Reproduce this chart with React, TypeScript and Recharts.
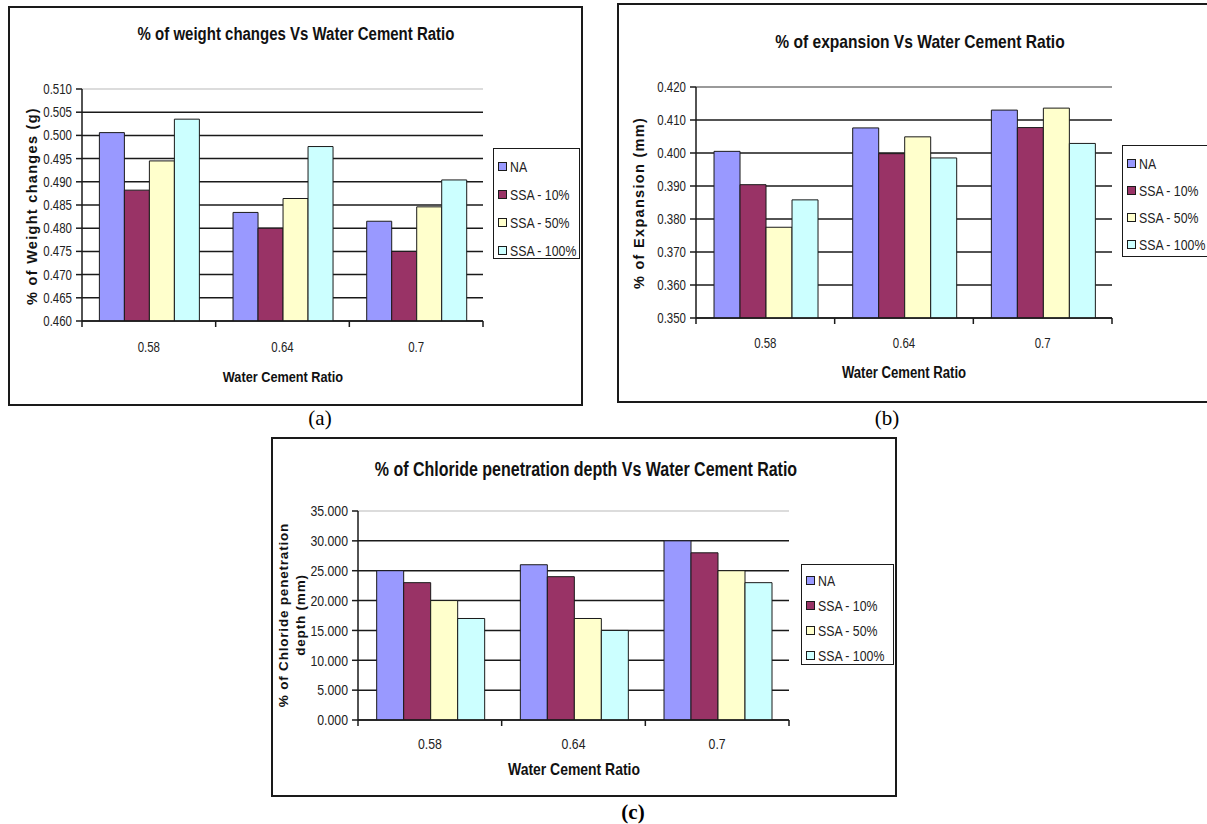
import { BarChart, Bar, XAxis, YAxis, CartesianGrid, Legend, ReferenceLine } from 'recharts';

// three Excel-style grouped bar charts: weight change, expansion, chloride depth

const ratios = ['0.58', '0.64', '0.7'];
const seriesNames = ['NA', 'SSA - 10%', 'SSA - 50%', 'SSA - 100%'];
const seriesColors = ['#9999FF', '#993366', '#FFFFCC', '#CCFFFF'];

const weightNA = [0.5006, 0.4834, 0.4815];
const weightSSA10 = [0.4882, 0.48, 0.475];
const weightSSA50 = [0.4945, 0.4864, 0.4846];
const weightSSA100 = [0.5035, 0.4976, 0.4904];
const weightTicks = [0.46, 0.465, 0.47, 0.475, 0.48, 0.485, 0.49, 0.495, 0.5, 0.505, 0.51];

const expansionNA = [0.4005, 0.4076, 0.413];
const expansionSSA10 = [0.3904, 0.3998, 0.4077];
const expansionSSA50 = [0.3775, 0.4049, 0.4136];
const expansionSSA100 = [0.3858, 0.3985, 0.4029];
const expansionTicks = [0.35, 0.36, 0.37, 0.38, 0.39, 0.4, 0.41, 0.42];

const chlorideNA = [25, 26, 30];
const chlorideSSA10 = [23, 24, 28];
const chlorideSSA50 = [20, 17, 25];
const chlorideSSA100 = [17, 15, 23];
const chlorideTicks = [0, 5, 10, 15, 20, 25, 30, 35];

// no Arial Narrow here, so squeeze Liberation Sans horizontally instead
const SANS = "'Liberation Sans', Arial, sans-serif";
const SQUEEZE = 0.82;
const INK = '#1a1a1a';
const Y_AXIS_W = 70;
const X_AXIS_H = 30;

function rows(series: number[][]) {
  return ratios.map((ratio, i) => {
    const row: Record<string, string | number> = { ratio };
    seriesNames.forEach((name, s) => {
      row[name] = series[s][i];
    });
    return row;
  });
}

function EdgeTick(props: any) {
  const { x, y, payload, index, visibleTicksCount, gap, size } = props;
  const half = payload?.offset ?? 0;
  const axisY = y - gap;
  const last = index === visibleTicksCount - 1;
  return (
    <g>
      <line x1={x - half} x2={x - half} y1={axisY} y2={axisY + 6} stroke={INK} strokeWidth={1.5} />
      {last && <line x1={x + half} x2={x + half} y1={axisY} y2={axisY + 6} stroke={INK} strokeWidth={1.5} />}
      <text
        transform={`translate(${x},${y}) scale(${SQUEEZE},1)`}
        dy="0.71em"
        textAnchor="middle"
        fontSize={size}
        fontFamily={SANS}
        fill="#222"
      >
        {payload.value}
      </text>
    </g>
  );
}

function ValueTick(props: any) {
  const { x, y, payload, size } = props;
  return (
    <text
      transform={`translate(${x},${y}) scale(${SQUEEZE},1)`}
      dy="0.355em"
      textAnchor="end"
      fontSize={size}
      fontFamily={SANS}
      fill="#222"
    >
      {Number(payload.value).toFixed(3)}
    </text>
  );
}

type LegendPos = { left: number; top: number; width: number; height: number; first: number; step: number };

function LegendBox({ pos }: { pos: LegendPos }) {
  return (
    <div
      style={{
        position: 'relative',
        width: pos.width,
        height: pos.height,
        border: `1.5px solid ${INK}`,
        boxSizing: 'border-box',
        background: '#fff',
      }}
    >
      {seriesNames.map((name, i) => (
        <div
          key={name}
          style={{
            position: 'absolute',
            left: 4,
            top: pos.first + i * pos.step - 9,
            height: 18,
            display: 'flex',
            alignItems: 'center',
            whiteSpace: 'nowrap',
            fontFamily: SANS,
            fontSize: 15,
            color: '#222',
          }}
        >
          <span
            style={{
              display: 'inline-block',
              width: 7,
              height: 7,
              background: seriesColors[i],
              border: `1px solid ${INK}`,
              marginRight: 3,
            }}
          />
          <span style={{ display: 'inline-block', transform: `scaleX(${SQUEEZE})`, transformOrigin: 'left center' }}>
            {name}
          </span>
        </div>
      ))}
    </div>
  );
}

type PanelProps = {
  box: { left: number; top: number; width: number; height: number };
  plot: { left: number; top: number; right: number; bottom: number };
  data: Record<string, string | number>[];
  domain: [number, number];
  ticks: number[];
  tickSize: number;
  title: string;
  titleSize: number;
  titleX: number;
  titleY: number;
  yTitle: string[];
  yTitleX: number;
  yTitleY: number;
  yTitleSize: number;
  yTitleSpacing: number;
  tickGap: number;
  xTitleY: number;
  xTitleSize: number;
  legend: LegendPos;
  framed?: boolean;
};

function Squeezed({ children, size, cx, cy }: { children: string; size: number; cx: number; cy: number }) {
  return (
    <div
      style={{
        position: 'absolute',
        left: cx - 300,
        width: 600,
        top: cy - 12,
        lineHeight: '24px',
        textAlign: 'center',
        fontFamily: SANS,
        fontWeight: 'bold',
        fontSize: size,
        color: '#111',
        whiteSpace: 'nowrap',
        transform: `scaleX(${SQUEEZE})`,
      }}
    >
      {children}
    </div>
  );
}

function Panel(p: PanelProps) {
  const { box, plot } = p;
  const margin = {
    top: plot.top,
    right: box.width - plot.right,
    bottom: box.height - plot.bottom - X_AXIS_H,
    left: plot.left - Y_AXIS_W,
  };
  const plotCenter = (plot.left + plot.right) / 2;
  return (
    <div style={{ position: 'absolute', left: box.left, top: box.top, width: box.width, height: box.height }}>
      <div style={{ position: 'absolute', left: 0, top: 0 }}>
        <BarChart
          width={box.width}
          height={box.height}
          data={p.data}
          margin={margin}
          barCategoryGap="13%"
          barGap={0}
        >
          <CartesianGrid vertical={false} stroke={INK} strokeWidth={1.5} />
          <XAxis
            dataKey="ratio"
            height={X_AXIS_H}
            interval={0}
            tickLine={false}
            tickSize={0}
            tickMargin={p.tickGap}
            axisLine={{ stroke: INK, strokeWidth: 1.5 }}
            tick={<EdgeTick gap={p.tickGap} size={p.tickSize} />}
          />
          <YAxis
            type="number"
            domain={p.domain}
            ticks={p.ticks}
            interval={0}
            allowDataOverflow
            width={Y_AXIS_W}
            tick={<ValueTick size={p.tickSize} />}
            tickMargin={4}
            tickLine={{ stroke: INK, strokeWidth: 1.5 }}
            axisLine={{ stroke: INK, strokeWidth: 1.5 }}
          />
          {p.framed && (
            <YAxis
              yAxisId="frame"
              orientation="right"
              width={0}
              domain={p.domain}
              tick={false}
              tickLine={false}
              axisLine={{ stroke: '#9a9a9a', strokeWidth: 1.5 }}
            />
          )}
          <ReferenceLine y={p.domain[1]} stroke={p.framed ? '#9a9a9a' : '#dcdcdc'} strokeWidth={2} />
          {seriesNames.map((name, i) => (
            <Bar
              key={name}
              dataKey={name}
              name={name}
              fill={seriesColors[i]}
              stroke={INK}
              strokeWidth={1}
              isAnimationActive={false}
            />
          ))}
          <Legend
            layout="vertical"
            align="center"
            verticalAlign="middle"
            wrapperStyle={{ left: p.legend.left, top: p.legend.top, width: p.legend.width, height: p.legend.height }}
            content={() => <LegendBox pos={p.legend} />}
          />
        </BarChart>
      </div>
      <Squeezed size={p.titleSize} cx={p.titleX} cy={p.titleY}>
        {p.title}
      </Squeezed>
      <Squeezed size={p.xTitleSize} cx={plotCenter} cy={p.xTitleY}>
        Water Cement Ratio
      </Squeezed>
      <div
        style={{
          position: 'absolute',
          left: p.yTitleX - 150,
          top: p.yTitleY - 20,
          width: 300,
          height: 40,
          display: 'flex',
          flexDirection: 'column',
          justifyContent: 'center',
          alignItems: 'center',
          transform: 'rotate(-90deg)',
          fontFamily: SANS,
          fontWeight: 'bold',
          fontSize: p.yTitleSize,
          letterSpacing: p.yTitleSpacing,
          lineHeight: '17px',
          color: '#111',
          whiteSpace: 'nowrap',
        }}
      >
        {p.yTitle.map((t) => (
          <div key={t}>{t}</div>
        ))}
      </div>
      <div
        style={{
          position: 'absolute',
          inset: 0,
          border: `2px solid ${INK}`,
          pointerEvents: 'none',
        }}
      />
    </div>
  );
}

function Caption({ text, x, y, bold }: { text: string; x: number; y: number; bold?: boolean }) {
  return (
    <div
      style={{
        position: 'absolute',
        left: x - 30,
        width: 60,
        top: y - 12,
        lineHeight: '24px',
        textAlign: 'center',
        fontFamily: "'Liberation Serif', 'Times New Roman', serif",
        fontSize: 21,
        fontWeight: bold ? 'bold' : 'normal',
        color: '#000',
      }}
    >
      {text}
    </div>
  );
}

export default function App() {
  const weightData = rows([weightNA, weightSSA10, weightSSA50, weightSSA100]);
  const expansionData = rows([expansionNA, expansionSSA10, expansionSSA50, expansionSSA100]);
  const chlorideData = rows([chlorideNA, chlorideSSA10, chlorideSSA50, chlorideSSA100]);

  return (
    <div
      style={{
        position: 'fixed',
        left: 0,
        top: 0,
        width: 1207,
        height: 824,
        overflow: 'hidden',
        background: '#fff',
      }}
    >
      <Panel
        box={{ left: 8, top: 6, width: 575, height: 400 }}
        plot={{ left: 74, top: 83, right: 475, bottom: 315 }}
        data={weightData}
        domain={[0.46, 0.51]}
        ticks={weightTicks}
        tickSize={14}
        title="% of weight changes Vs Water Cement Ratio"
        titleSize={18.3}
        titleX={288}
        titleY={28}
        yTitle={['% of Weight changes (g)']}
        yTitleX={24}
        yTitleY={200}
        yTitleSize={14.5}
        yTitleSpacing={1.3}
        tickGap={21}
        xTitleY={371}
        xTitleSize={15.5}
        legend={{ left: 485, top: 142, width: 87, height: 111, first: 17, step: 28 }}
      />
      <Panel
        box={{ left: 617, top: 3, width: 598, height: 400 }}
        plot={{ left: 79, top: 84, right: 495, bottom: 315 }}
        data={expansionData}
        domain={[0.35, 0.42]}
        ticks={expansionTicks}
        tickSize={14}
        title="% of expansion Vs Water Cement Ratio"
        titleSize={19}
        titleX={303}
        titleY={39}
        yTitle={['% of Expansion (mm)']}
        yTitleX={22}
        yTitleY={199.5}
        yTitleSize={14.5}
        yTitleSpacing={1.3}
        tickGap={20}
        xTitleY={370}
        xTitleSize={16}
        legend={{ left: 505, top: 142, width: 92, height: 112, first: 17, step: 27 }}
        framed
      />
      <Panel
        box={{ left: 271, top: 437, width: 626, height: 360 }}
        plot={{ left: 87, top: 74, right: 518, bottom: 283 }}
        data={chlorideData}
        domain={[0, 35]}
        ticks={chlorideTicks}
        tickSize={15}
        title="% of Chloride penetration depth Vs Water Cement Ratio"
        titleSize={19.5}
        titleX={315}
        titleY={32}
        yTitle={['% of Chloride penetration', 'depth (mm)']}
        yTitleX={21}
        yTitleY={178}
        yTitleSize={13.5}
        yTitleSpacing={0.8}
        tickGap={18}
        xTitleY={333}
        xTitleSize={17}
        legend={{ left: 530, top: 127, width: 93, height: 101, first: 15, step: 25 }}
      />
      <Caption text="(a)" x={320} y={418} />
      <Caption text="(b)" x={887} y={418} />
      <Caption text="(c)" x={633} y={812} bold />
    </div>
  );
}
